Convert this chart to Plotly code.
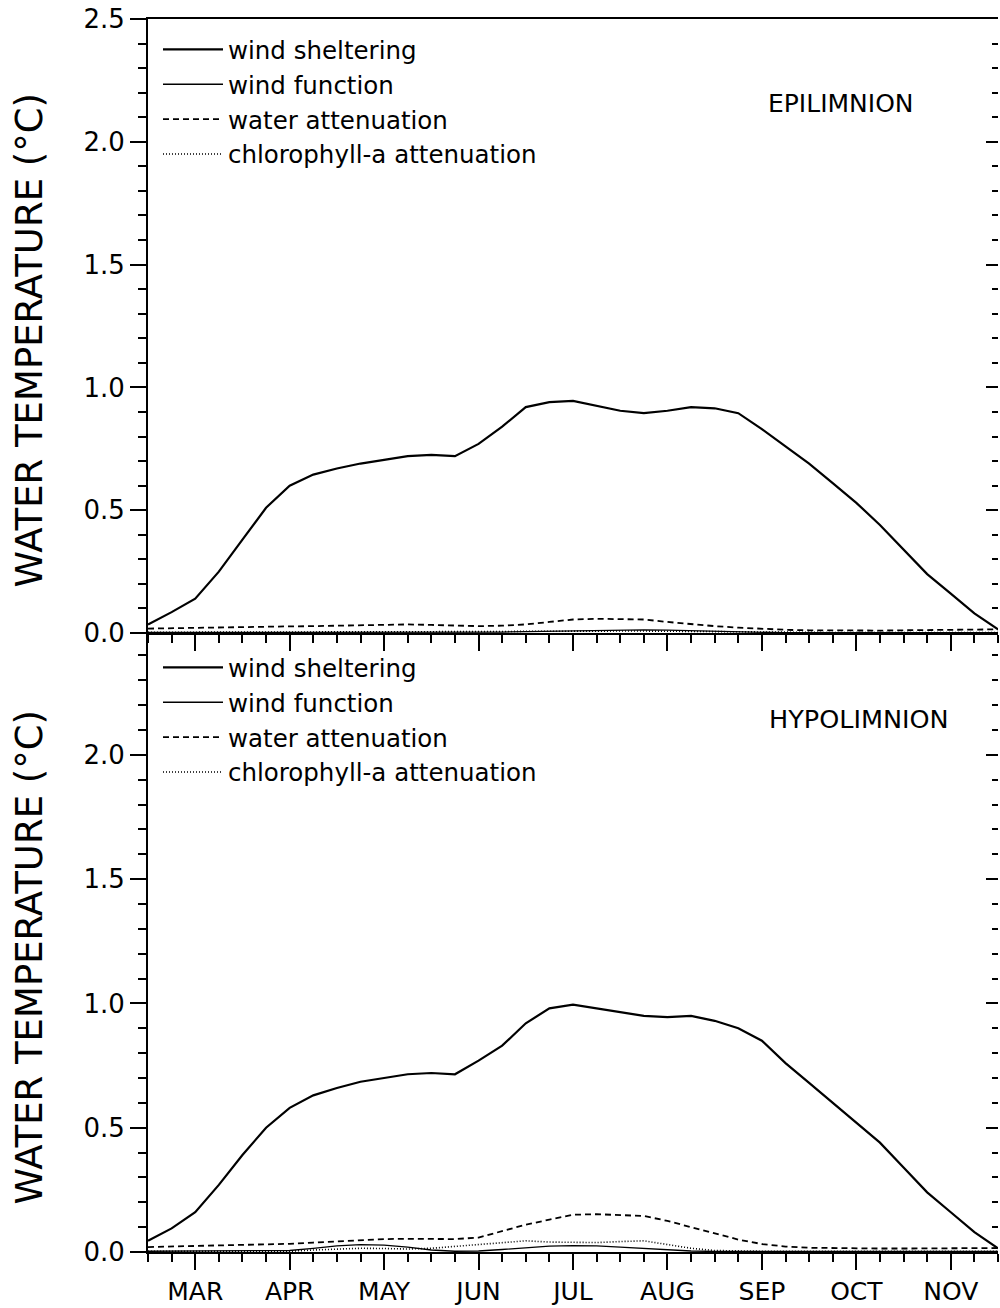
import plotly.graph_objects as go

# x positions in month units (3 = MAR tick, 11 = NOV tick), quarter-month steps
months = [2.5 + 0.25 * i for i in range(37)]
month_ticks = [3, 4, 5, 6, 7, 8, 9, 10, 11]
month_labels = ["MAR", "APR", "MAY", "JUN", "JUL", "AUG", "SEP", "OCT", "NOV"]
y_ticks = [0.0, 0.5, 1.0, 1.5, 2.0, 2.5]

# ---- EPILIMNION ----
epi_wind_sheltering = [0.035, 0.085, 0.14, 0.25, 0.38, 0.51, 0.60, 0.645, 0.67, 0.69,
                       0.705, 0.72, 0.725, 0.72, 0.77, 0.84, 0.92, 0.94, 0.945, 0.925,
                       0.905, 0.895, 0.905, 0.92, 0.915, 0.895, 0.83, 0.76, 0.69, 0.61,
                       0.53, 0.44, 0.34, 0.24, 0.16, 0.08, 0.015]
epi_wind_function = [0.002, 0.002, 0.002, 0.002, 0.002, 0.002, 0.002, 0.002, 0.002, 0.002,
                     0.003, 0.003, 0.003, 0.003, 0.003, 0.004, 0.006, 0.008, 0.010, 0.012,
                     0.013, 0.013, 0.012, 0.010, 0.007, 0.004, 0.002, 0.001, 0.001, 0.001,
                     0.001, 0.001, 0.001, 0.001, 0.001, 0.001, 0.001]
epi_water_atten = [0.018, 0.020, 0.022, 0.024, 0.025, 0.026, 0.027, 0.028, 0.030, 0.033,
                   0.035, 0.035, 0.033, 0.030, 0.028, 0.030, 0.035, 0.045, 0.055, 0.058,
                   0.058, 0.055, 0.045, 0.035, 0.028, 0.022, 0.017, 0.013, 0.011, 0.010,
                   0.010, 0.010, 0.011, 0.012, 0.013, 0.014, 0.015]
epi_chl_atten = [0.003, 0.003, 0.003, 0.003, 0.003, 0.004, 0.004, 0.005, 0.005, 0.005,
                 0.005, 0.005, 0.004, 0.004, 0.005, 0.006, 0.007, 0.008, 0.008, 0.008,
                 0.008, 0.008, 0.007, 0.005, 0.004, 0.003, 0.002, 0.002, 0.002, 0.002,
                 0.002, 0.002, 0.002, 0.002, 0.002, 0.002, 0.002]

# ---- HYPOLIMNION ----
hypo_wind_sheltering = [0.045, 0.095, 0.16, 0.27, 0.39, 0.50, 0.58, 0.63, 0.66, 0.685,
                        0.70, 0.715, 0.72, 0.715, 0.77, 0.83, 0.92, 0.98, 0.995, 0.98,
                        0.965, 0.95, 0.945, 0.95, 0.93, 0.90, 0.85, 0.76, 0.68, 0.60,
                        0.52, 0.44, 0.34, 0.24, 0.16, 0.08, 0.015]
hypo_wind_function = [0.003, 0.003, 0.003, 0.003, 0.003, 0.003, 0.006, 0.015, 0.025, 0.030,
                      0.028, 0.020, 0.008, 0.003, 0.004, 0.010, 0.018, 0.024, 0.026, 0.025,
                      0.020, 0.014, 0.008, 0.004, 0.002, 0.002, 0.002, 0.002, 0.002, 0.002,
                      0.002, 0.002, 0.002, 0.002, 0.002, 0.002, 0.002]
hypo_water_atten = [0.020, 0.022, 0.024, 0.026, 0.028, 0.030, 0.033, 0.038, 0.043, 0.048,
                    0.052, 0.053, 0.052, 0.052, 0.058, 0.085, 0.110, 0.130, 0.150, 0.152,
                    0.150, 0.145, 0.125, 0.100, 0.075, 0.050, 0.032, 0.022, 0.017, 0.015,
                    0.014, 0.014, 0.014, 0.015, 0.015, 0.016, 0.016]
hypo_chl_atten = [0.003, 0.003, 0.003, 0.003, 0.003, 0.003, 0.003, 0.008, 0.012, 0.015,
                  0.014, 0.012, 0.015, 0.022, 0.030, 0.038, 0.045, 0.040, 0.038, 0.038,
                  0.042, 0.045, 0.030, 0.015, 0.006, 0.003, 0.003, 0.003, 0.003, 0.003,
                  0.003, 0.003, 0.003, 0.003, 0.003, 0.003, 0.003]

series_names = ["wind sheltering", "wind function", "water attenuation", "chlorophyll-a attenuation"]
series_styles = [dict(width=2.2, dash="solid"), dict(width=1.3, dash="solid"),
                 dict(width=1.8, dash="6px,4px"), dict(width=1.6, dash="1px,2px")]

FONT = "DejaVu Sans, sans-serif"
fig = go.Figure()

panels = [
    ("x", "y", "legend", [epi_wind_sheltering, epi_wind_function, epi_water_atten, epi_chl_atten]),
    ("x2", "y2", "legend2", [hypo_wind_sheltering, hypo_wind_function, hypo_water_atten, hypo_chl_atten]),
]
for xa, ya, lg, data in panels:
    for name, style, vals in zip(series_names, series_styles, data):
        fig.add_trace(go.Scatter(x=months, y=vals, mode="lines", name=name,
                                 line=dict(color="black", **style),
                                 xaxis=xa, yaxis=ya, legend=lg))

# invisible traces for right-side inward tick axes
fig.add_trace(go.Scatter(x=[], y=[], xaxis="x", yaxis="y3", showlegend=False))
fig.add_trace(go.Scatter(x=[], y=[], xaxis="x2", yaxis="y4", showlegend=False))

split = (1258 - 636) / 1239

xcommon = dict(range=[2.5, 11.5], tickmode="array", tickvals=month_ticks,
               ticks="outside", ticklen=16, tickwidth=2, tickcolor="black",
               showline=True, linecolor="black", linewidth=2, showgrid=False, zeroline=False,
               minor=dict(tickmode="linear", tick0=2.5, dtick=0.25, ticks="outside",
                          ticklen=8, tickwidth=2, tickcolor="black", showgrid=False),
               tickfont=dict(family=FONT, size=25, color="black"))
ycommon = dict(range=[0, 2.5], tickmode="array", tickvals=y_ticks,
               ticktext=[f"{v:.1f}" for v in y_ticks],
               ticks="outside", ticklen=16, tickwidth=2, tickcolor="black",
               showline=True, linecolor="black", linewidth=2, showgrid=False, zeroline=False,
               minor=dict(tickmode="linear", tick0=0, dtick=0.1, ticks="outside",
                          ticklen=8, tickwidth=2, tickcolor="black", showgrid=False),
               tickfont=dict(family=FONT, size=26, color="black"))
yright = dict(range=[0, 2.5], tickmode="array", tickvals=y_ticks, side="right",
              showticklabels=False, ticks="inside", ticklen=12, tickwidth=2, tickcolor="black",
              showline=False, showgrid=False, zeroline=False,
              minor=dict(tickmode="linear", tick0=0, dtick=0.1, ticks="inside",
                         ticklen=6, tickwidth=2, tickcolor="black", showgrid=False))

legcommon = dict(xanchor="left", yanchor="top", bgcolor="rgba(0,0,0,0)",
                 font=dict(family=FONT, size=24.5, color="black"),
                 itemwidth=60, tracegroupgap=0, borderwidth=0, x=10 / 850)

title_font = dict(family=FONT, size=37, color="black")
fig.update_layout(
    width=1000, height=1308,
    margin=dict(l=148, r=2, t=19, b=50),
    paper_bgcolor="white", plot_bgcolor="white",
    xaxis=dict(xcommon, anchor="y", domain=[0, 1], showticklabels=False, mirror=True),
    yaxis=dict(ycommon, anchor="x", domain=[split, 1]),
    xaxis2=dict(xcommon, anchor="y2", domain=[0, 1], ticktext=month_labels, matches="x"),
    yaxis2=dict(ycommon, anchor="x2", domain=[0, split], range=[0, 2.49],
                tickvals=y_ticks[:-1], ticktext=[f"{v:.1f}" for v in y_ticks[:-1]]),
    yaxis3=dict(yright, overlaying="y", anchor="x"),
    yaxis4=dict(yright, overlaying="y2", anchor="x2", range=[0, 2.49]),
    legend=dict(legcommon, yref="paper", y=1 - 8 / 1239),
    legend2=dict(legcommon, yref="paper", y=split - 12 / 1239),
    showlegend=True,
    annotations=[
        dict(text="EPILIMNION", xref="x domain", yref="y domain", x=(841 - 148) / 850,
             y=(636 - 104) / 617, xanchor="center", yanchor="middle",
             showarrow=False, font=dict(family=FONT, size=25, color="black")),
        dict(text="HYPOLIMNION", xref="x2 domain", yref="y2 domain", x=(859 - 148) / 850,
             y=(1258 - 722) / 622, xanchor="center", yanchor="middle",
             showarrow=False, font=dict(family=FONT, size=25.5, color="black")),
        dict(text="WATER TEMPERATURE (°C)", xref="paper", yref="paper",
             x=(29 - 148) / 850, y=(1258 - 342) / 1239, xanchor="center", yanchor="middle",
             textangle=-90, showarrow=False, font=title_font),
        dict(text="WATER TEMPERATURE (°C)", xref="paper", yref="paper",
             x=(29 - 148) / 850, y=(1258 - 962) / 1239, xanchor="center", yanchor="middle",
             textangle=-90, showarrow=False, font=title_font),
    ],
)

fig.write_html("out.html", config={"displayModeBar": False})
